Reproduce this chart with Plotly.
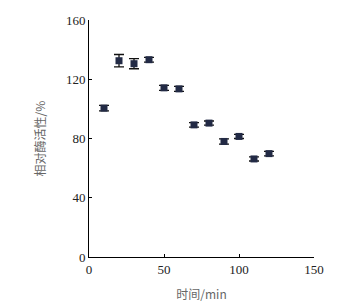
import plotly.graph_objects as go

time_min = [10, 20, 30, 40, 50, 60, 70, 80, 90, 100, 110, 120]
rel_activity = [100.5, 132.5, 130.5, 133.2, 114.2, 113.5, 89.2, 90.4, 78.0, 81.4, 66.2, 69.8]
err = [1.9, 4.2, 3.4, 1.6, 1.7, 1.7, 1.5, 1.4, 1.8, 1.4, 1.4, 1.5]

fig = go.Figure()
fig.add_trace(go.Scatter(
    x=time_min, y=rel_activity, mode="markers",
    marker=dict(symbol="square", size=7, color="#222a45"),
    error_y=dict(type="data", array=err, visible=True, color="#111111", thickness=1.3, width=5),
    showlegend=False, hoverinfo="skip",
))

tickfont = dict(family="Times New Roman, Liberation Serif, serif", size=13, color="#222222")
titlefont = dict(family="Noto Sans CJK SC", size=12, color="#666666")
fig.update_layout(
    width=358, height=304,
    margin=dict(l=89, r=44, t=20, b=47, autoexpand=False),
    paper_bgcolor="white", plot_bgcolor="white",
    xaxis=dict(range=[0, 150], tickvals=[0, 50, 100, 150], showline=True, linecolor="black", linewidth=1,
               ticks="inside", ticklen=3, tickcolor="black", showgrid=False, zeroline=False,
               tickfont=tickfont, automargin=False,
               title=dict(text="时间/min", font=titlefont, standoff=15)),
    yaxis=dict(range=[0, 160], tickvals=[0, 40, 80, 120, 160], showline=True, linecolor="black", linewidth=1,
               ticks="inside", ticklen=3, tickcolor="black", showgrid=False, zeroline=False,
               tickfont=tickfont, automargin=False,
               title=dict(text="相对酶活性/%", font=titlefont, standoff=17)),
)
fig.write_html("out.html", config={"displayModeBar": False},
               post_script="document.body.style.margin='0';")
